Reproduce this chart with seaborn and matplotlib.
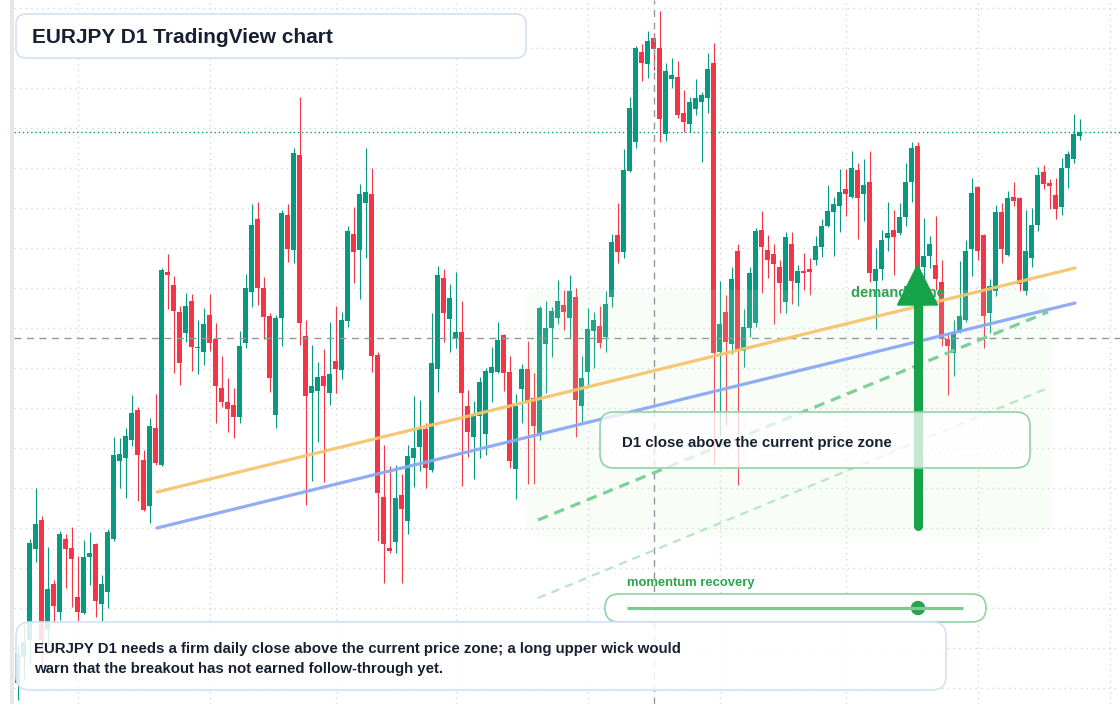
import matplotlib
matplotlib.use("Agg")
import matplotlib.pyplot as plt
from matplotlib.patches import FancyBboxPatch, Polygon, Circle, Rectangle
import numpy as np
import seaborn as sns

# EURJPY daily candles (yen), oldest first
opens = [163.25, 163.51, 163.68, 164.59, 164.88, 163.78, 164.24, 163.96, 164.69, 164.60,
         164.11, 163.95, 164.51, 164.64, 164.04, 164.16, 164.69, 165.47, 165.50, 165.68,
         165.98, 165.48, 165.02, 165.80, 165.43, 167.36, 167.23, 166.96, 166.75, 167.07,
         166.60, 166.56, 166.93, 166.69, 166.20, 166.06, 166.03, 165.91, 166.65, 167.16,
         167.89, 167.20, 166.92, 165.93, 166.90, 167.93, 167.58, 168.53, 166.72, 166.15,
         166.17, 166.32, 166.15, 166.47, 166.38, 166.87, 167.74, 167.58, 168.05, 168.14,
         166.53, 165.11, 164.60, 164.66, 165.13, 164.87, 165.50, 165.61, 165.79, 165.38,
         166.39, 167.30, 166.89, 166.69, 166.76, 166.02, 165.71, 165.92, 165.74, 166.35,
         166.36, 166.73, 166.36, 165.39, 166.19, 166.39, 166.10, 165.75, 166.64, 166.80,
         166.90, 167.03, 166.90, 167.11, 166.02, 166.36, 166.77, 166.82, 166.71, 167.11,
         167.73, 167.56, 168.37, 168.66, 169.56, 169.44, 169.70, 169.60, 168.74, 169.29,
         169.31, 168.95, 168.84, 168.99, 169.06, 169.10, 169.45, 166.56, 166.96, 166.64,
         167.57, 166.57, 166.80, 166.85, 167.78, 167.58, 167.54, 167.41, 167.06, 167.64,
         167.25, 167.37, 167.39, 167.48, 167.61, 167.82, 167.96, 168.02, 168.19, 168.11,
         168.38, 168.14, 168.26, 167.27, 167.39, 167.70, 167.78, 167.75, 167.91, 168.26,
         168.62, 167.41, 167.52, 167.43, 167.26, 166.69, 166.55, 166.77, 166.88, 167.59,
         168.21, 167.73, 166.95, 167.17, 167.96, 167.53, 168.11, 168.10, 167.17, 167.50,
         167.83, 168.36, 168.25, 168.13, 168.01, 168.40, 168.49, 168.72]
highs = [163.63, 163.83, 164.69, 165.20, 164.92, 164.61, 164.28, 164.77, 164.74, 164.81,
         164.52, 164.68, 164.76, 164.65, 164.33, 164.79, 165.71, 165.70, 165.80, 166.13,
         166.01, 165.58, 165.90, 166.14, 167.40, 167.54, 167.32, 167.02, 167.15, 167.14,
         166.88, 167.00, 167.14, 166.85, 166.52, 166.30, 166.20, 166.77, 167.34, 168.04,
         168.06, 167.31, 166.95, 166.93, 167.98, 168.04, 168.60, 169.11, 166.88, 166.63,
         166.46, 166.59, 166.86, 167.02, 166.96, 167.82, 168.01, 168.24, 168.60, 168.40,
         166.56, 165.63, 165.42, 165.43, 165.34, 165.63, 166.12, 166.08, 165.85, 166.95,
         167.42, 167.39, 167.24, 167.36, 167.07, 166.18, 166.07, 166.31, 166.40, 166.61,
         166.86, 166.74, 166.52, 166.14, 166.44, 166.67, 166.35, 167.02, 167.07, 167.01,
         167.28, 167.18, 167.33, 167.20, 166.52, 167.00, 166.96, 167.02, 167.17, 167.74,
         168.05, 168.59, 169.11, 169.62, 169.64, 169.77, 169.75, 169.97, 169.45, 169.50,
         169.47, 169.18, 169.11, 169.29, 169.16, 169.55, 169.65, 167.27, 167.13, 167.41,
         167.64, 166.99, 167.41, 167.80, 167.97, 167.73, 167.64, 167.48, 167.76, 167.76,
         167.43, 167.55, 167.50, 167.72, 167.89, 168.23, 168.11, 168.39, 168.39, 168.57,
         168.45, 168.49, 168.57, 167.60, 167.78, 168.06, 167.98, 168.05, 168.45, 168.66,
         168.66, 167.90, 167.72, 167.92, 167.48, 166.75, 166.88, 167.47, 167.68, 168.30,
         168.22, 167.74, 167.29, 168.03, 168.05, 168.17, 168.26, 168.11, 167.98, 168.00,
         168.41, 168.43, 168.29, 168.30, 168.50, 168.57, 168.94, 168.89]
lows = [163.08, 163.28, 163.43, 164.46, 163.43, 163.63, 163.86, 163.88, 164.20, 164.01,
        163.86, 163.94, 164.23, 163.91, 163.86, 164.00, 164.67, 165.20, 165.10, 165.62,
        165.07, 164.97, 164.85, 165.43, 165.42, 166.99, 166.35, 166.23, 166.66, 166.37,
        166.34, 166.43, 166.57, 165.85, 166.01, 165.76, 165.70, 165.85, 166.60, 167.01,
        167.03, 166.69, 166.16, 165.80, 166.62, 167.46, 167.45, 166.63, 165.03, 165.27,
        165.66, 165.26, 166.03, 166.15, 166.29, 166.81, 167.25, 167.09, 167.50, 166.36,
        164.67, 164.25, 164.55, 164.55, 164.25, 164.74, 165.21, 165.37, 165.20, 165.36,
        166.16, 166.66, 166.56, 166.60, 165.22, 165.51, 165.29, 165.50, 165.53, 166.06,
        166.35, 166.17, 165.40, 165.09, 165.85, 165.24, 165.24, 165.68, 166.15, 166.51,
        166.84, 166.78, 166.70, 165.71, 165.86, 166.23, 166.40, 166.60, 166.56, 167.01,
        167.45, 167.50, 168.36, 168.60, 169.27, 169.30, 169.38, 168.66, 168.67, 169.20,
        168.90, 168.76, 168.76, 168.93, 168.46, 168.95, 165.43, 165.72, 165.83, 166.54,
        165.23, 166.41, 166.71, 166.81, 167.15, 167.30, 166.84, 166.95, 166.95, 167.04,
        167.02, 167.18, 167.13, 167.43, 167.51, 167.81, 167.52, 167.76, 167.92, 168.10,
        167.69, 167.87, 167.26, 166.79, 167.28, 167.57, 167.33, 167.73, 167.82, 168.06,
        167.03, 167.23, 167.40, 167.18, 166.62, 166.13, 166.32, 166.75, 166.86, 167.32,
        167.48, 166.60, 166.75, 167.12, 167.45, 167.52, 168.02, 167.17, 167.13, 167.41,
        167.77, 168.19, 167.99, 167.89, 167.93, 168.20, 168.45, 168.68]
closes = [163.55, 163.66, 164.65, 164.84, 163.68, 164.19, 164.02, 164.74, 164.59, 164.49,
          163.96, 164.51, 164.55, 164.07, 164.24, 164.76, 165.53, 165.54, 165.72, 165.95,
          165.53, 164.98, 165.82, 165.45, 167.38, 167.33, 166.97, 166.45, 167.02, 166.61,
          166.61, 166.84, 166.65, 166.22, 166.06, 165.99, 165.91, 166.62, 167.20, 167.83,
          167.20, 166.91, 166.30, 166.90, 167.95, 167.59, 168.55, 166.85, 166.12, 166.22,
          166.31, 166.22, 166.34, 166.39, 166.88, 167.77, 167.56, 168.14, 168.16, 166.52,
          165.15, 164.64, 164.57, 165.10, 164.99, 165.52, 165.60, 165.79, 165.40, 166.45,
          167.33, 166.95, 167.10, 166.76, 166.15, 165.76, 165.94, 166.26, 166.37, 166.41,
          166.68, 166.35, 165.47, 166.02, 166.39, 166.05, 165.82, 167.00, 166.80, 166.97,
          167.07, 166.96, 167.17, 166.08, 166.30, 166.79, 166.88, 166.65, 167.04, 167.66,
          167.56, 168.38, 169.00, 169.60, 169.45, 169.67, 169.59, 168.89, 169.37, 169.33,
          168.93, 168.86, 169.06, 169.10, 169.13, 169.39, 166.55, 166.84, 166.66, 167.29,
          166.58, 166.81, 167.35, 167.77, 167.61, 167.48, 167.44, 167.25, 167.71, 167.27,
          167.37, 167.35, 167.36, 167.62, 167.82, 167.97, 168.04, 168.16, 168.14, 168.40,
          168.10, 168.23, 167.35, 167.39, 167.68, 167.75, 167.71, 167.91, 168.26, 168.60,
          167.13, 167.52, 167.64, 167.29, 166.69, 166.62, 166.76, 166.92, 167.57, 168.15,
          167.57, 166.92, 167.22, 167.96, 167.59, 168.10, 168.07, 167.24, 167.57, 167.83,
          168.33, 168.24, 168.22, 167.99, 168.40, 168.54, 168.74, 168.76]

# candle index where each month starts (vertical grid)
month_starts = [10, 32, 53, 73, 95, 117, 138, 160, 182]
price_grid = [170.0 - 0.4 * i for i in range(18)]

# drawn tools: (bar index, price) pairs
upper_channel = ([23.25, 176.25], [165.16, 167.40])
lower_channel = ([23.25, 176.25], [164.80, 167.05])
momentum_line = ([86.75, 171.75], [164.88, 166.96])
momentum_base = ([86.75, 171.75], [164.10, 166.20])
demand_zone = (84.6, 172.4, 164.71, 167.18)
arrow_bar, arrow_from, arrow_to = 150, 164.82, 167.43
cross_bar, cross_price = 106, 166.70
last_price = closes[-1]

UP, DOWN = "#089981", "#f23645"
INK = "#172033"
GREEN = "#16a34a"

sns.set_theme(style="white")
plt.rcParams["font.family"] = ["Liberation Sans", "DejaVu Sans"]

fig = plt.figure(figsize=(11.2, 7.04), dpi=100)
ax = fig.add_axes([0, 0, 1, 1])
ax.set_xlim(-2.92, 183.75)
ax.set_ylim(163.04, 170.08)
ax.set_axis_off()

# grid
ax.hlines(price_grid, -0.58, 183.75, colors="#d3d6db", lw=1, linestyles=(0, (1, 3)), zorder=1)
ax.vlines(month_starts, 163.04, 170.08, colors="#d3d6db", lw=1, linestyles=(0, (1, 3)), zorder=1)

# candles
x = np.arange(len(opens))
o, h, l, c = (np.array(v) for v in (opens, highs, lows, closes))
colors = np.where(c >= o, UP, DOWN)
ax.vlines(x, l, h, colors=colors, lw=0.8, zorder=2)
ax.bar(x, np.maximum(np.abs(c - o), 0.012), bottom=np.minimum(o, c), width=0.8,
       color=colors, lw=0, zorder=3)

# demand zone (a faint wash over the candles)
x0, x1, y0, y1 = demand_zone
ax.add_patch(FancyBboxPatch((x0, y0), x1 - x0, y1 - y0,
                            boxstyle="round,pad=0,rounding_size=3", mutation_aspect=0.06,
                            fc="#cbf0cd", ec="none", alpha=0.13, zorder=4))
ax.text(138.9, 167.15, "demand zone", color="#2ea44f", fontsize=10.5,
        fontweight="bold", va="center", ha="left", zorder=6)

# crosshair and last price
ax.axvline(cross_bar, color="#9598a1", lw=1, ls=(0, (5, 4)), zorder=4.5)
ax.hlines(cross_price, -0.58, 183.75, colors="#9598a1", lw=1, linestyles=(0, (5, 4)), zorder=4.5)
ax.hlines(last_price, -0.58, 183.75, colors=UP, lw=1, linestyles=(0, (1, 2)), zorder=4.5)

# channel and momentum lines
sns.lineplot(x=upper_channel[0], y=upper_channel[1], ax=ax, color="#f6c46c", lw=2.3,
             alpha=0.95, zorder=5)
sns.lineplot(x=lower_channel[0], y=lower_channel[1], ax=ax, color="#8aa9f3", lw=2.3,
             alpha=0.95, zorder=5)
ax.plot(*momentum_line, color="#7fcf98", lw=2.3, ls=(0, (3.3, 2.2)), zorder=5)
ax.plot(*momentum_base, color="#b4e4c2", lw=1.5, ls=(0, (4, 3)), zorder=5)

# breakout arrow
head = 0.40
ax.plot([arrow_bar, arrow_bar], [arrow_from, arrow_to - head], color=GREEN, lw=6.5,
        solid_capstyle="round", zorder=7)
ax.add_patch(Polygon([(arrow_bar - 3.33, arrow_to - head), (arrow_bar + 3.33, arrow_to - head),
                      (arrow_bar, arrow_to)], closed=True, color=GREEN, zorder=7))

# overlay in pixel units for the annotation cards
ov = fig.add_axes([0, 0, 1, 1])
ov.set_xlim(0, 1120)
ov.set_ylim(704, 0)
ov.set_axis_off()
ov.patch.set_alpha(0)

ov.add_patch(Rectangle((10, 0), 4, 704, color="#e6e7e9", lw=0))


def card(x, y, w, h, ec, alpha=1.0, r=12):
    ov.add_patch(FancyBboxPatch((x, y), w, h, boxstyle=f"round,pad=0,rounding_size={r}",
                                fc=(1, 1, 1, alpha), ec=ec, lw=1.2))


card(16, 14, 510, 44, "#d3e1f5", r=10)
ov.text(32, 37.5, "EURJPY D1 TradingView chart", fontsize=15, fontweight="bold",
        color=INK, va="center", ha="left")

card(600, 412, 430, 56, "#8fd4a4", alpha=0.75, r=14)
ov.text(622, 442.5, "D1 close above the current price zone", fontsize=10.8,
        fontweight="bold", color=INK, va="center", ha="left")

ov.text(627, 583, "momentum recovery", fontsize=9.4, fontweight="bold",
        color="#2ea44f", va="center", ha="left")
card(605, 594, 381, 28, "#8fd4a4", alpha=0.9, r=14)
ov.plot([627, 963], [608, 608], color="#7ccb94", lw=2.3, solid_capstyle="butt")
ov.add_patch(Circle((918, 608), 6.5, color="#27a24f"))

card(16, 622, 930, 68, "#d3e1f5", alpha=0.86, r=14)
ov.text(34, 648.5, "EURJPY D1 needs a firm daily close above the current price zone; a long upper wick would",
        fontsize=10.8, fontweight="bold", color=INK, va="center", ha="left")
ov.text(34, 668.5, "warn that the breakout has not earned follow-through yet.",
        fontsize=10.8, fontweight="bold", color=INK, va="center", ha="left")

fig.savefig("out.png", dpi=100)
plt.close(fig)
